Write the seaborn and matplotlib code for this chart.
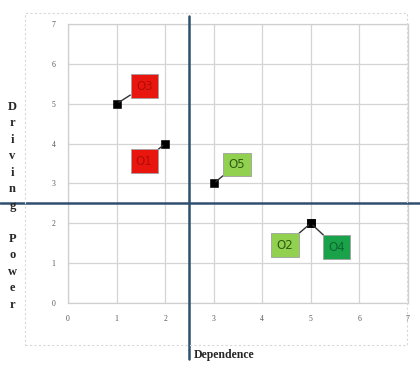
import matplotlib
matplotlib.use("Agg")
import matplotlib.pyplot as plt
import seaborn as sns
import pandas as pd

# =============================================================================
# Data
# =============================================================================
labels = ["O3", "O1", "O5", "O2", "O4"]
dependence = [1, 2, 3, 5, 5]
driving_power = [5, 4, 3, 2, 2]
box_colors = ["#e8160f", "#e8160f", "#92d050", "#92d050", "#1aa24a"]
text_colors = ["#b00c08", "#b00c08", "#2d5e12", "#2d5e12", "#0d6a2c"]
ticks = [0, 1, 2, 3, 4, 5, 6, 7]

# label box centres (data units)
label_pos = {"O3": (1.57, 5.44), "O1": (1.57, 3.56), "O5": (3.48, 3.48),
             "O2": (4.47, 1.45), "O4": (5.53, 1.40)}

df = pd.DataFrame({"label": labels, "dependence": dependence, "power": driving_power})

sns.set_style("white")
fig = plt.figure(figsize=(4.2, 3.65), dpi=100)
ax = fig.add_axes([0.162, 0.170, 0.809, 0.764])

sns.scatterplot(data=df, x="dependence", y="power", marker="s", s=28,
                color="black", edgecolor="black", ax=ax, zorder=5, legend=False)

for lab, x, y, bc, tc in zip(labels, dependence, driving_power, box_colors, text_colors):
    ax.annotate(lab, xy=(x, y), xytext=label_pos[lab], textcoords="data",
                ha="center", va="center", fontsize=8.5, color=tc,
                family="DejaVu Sans",
                bbox=dict(boxstyle="square,pad=0.45", fc=bc, ec="#a0a0a0", lw=0.6),
                arrowprops=dict(arrowstyle="-", color="#333333", lw=1.0,
                                shrinkA=0, shrinkB=2), zorder=6)

ax.set_xlim(0, 7)
ax.set_ylim(0, 7)
ax.set_xticks(ticks)
ax.set_yticks(ticks)
ax.tick_params(labelsize=5.5, colors="#555555", length=0, pad=9)
for lbl in ax.get_xticklabels() + ax.get_yticklabels():
    lbl.set_family("Liberation Serif")
ax.grid(True, color="#d4d4d4", lw=0.9)
for sp in ax.spines.values():
    sp.set_color("#cfcfcf")
    sp.set_linewidth(0.9)
ax.set_xlabel("")
ax.set_ylabel("")

# quadrant dividers across the whole figure
ax.axvline(2.5, ymin=-0.2, ymax=1.03, color="#2f4f6f", lw=1.8, clip_on=False, zorder=4)
ax.axhline(2.5, xmin=-0.2, xmax=1.04, color="#2f4f6f", lw=1.8, clip_on=False, zorder=4)

# faint chart-area frame
frame = plt.Rectangle((0.06, 0.055), 0.91, 0.91, transform=fig.transFigure,
                      fill=False, ec="#d8d8d8", lw=0.8, ls=(0, (2, 2)))
fig.add_artist(frame)

fig.text(0.462, 0.028, "Dependence", fontsize=8.5, fontweight="bold",
         family="Liberation Serif", ha="left", va="center")
fig.text(0.03, 0.436, "\n".join("Driving Power"), fontsize=9, fontweight="bold",
         family="Liberation Serif", ha="center", va="center", linespacing=1.5)

fig.savefig("out.png", dpi=100)
